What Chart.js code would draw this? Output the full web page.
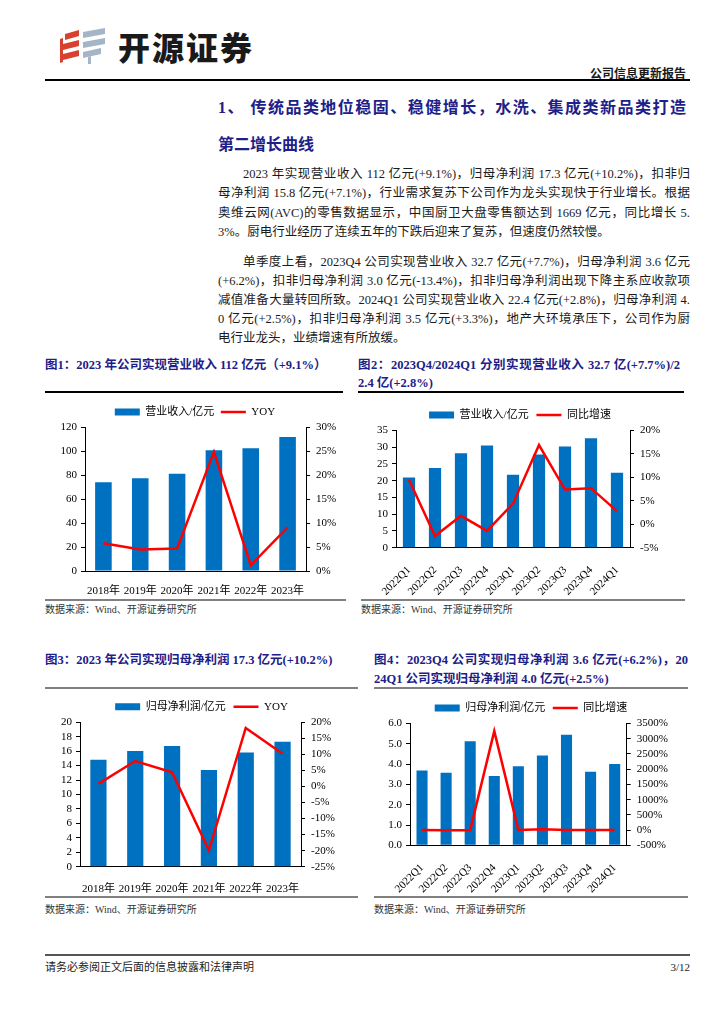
<!DOCTYPE html>
<html lang="zh-CN">
<head>
<meta charset="UTF-8">
<title>开源证券 公司信息更新报告</title>
<script src="https://cdn.jsdelivr.net/npm/chart.js"></script>
<style>
  body { margin: 0; background: #fff; }
  .page {
    position: relative; width: 724px; height: 1024px; overflow: hidden; background: #fff;
    font-family: 'Liberation Serif', 'Noto Sans CJK SC', serif; color: #1a1a1a;
  }
  .abs { position: absolute; white-space: nowrap; }
  .logo-text {
    left: 118px; top: 27px; font-family: 'Noto Sans CJK SC', sans-serif; font-weight: 900;
    font-size: 32px; line-height: 38px; letter-spacing: 2px; color: #1a1a1a;
  }
  .doc-type { left: 536px; width: 150px; top: 66px; text-align: right; font-size: 12px; line-height: 16px; font-weight: bold; }
  .rule { position: absolute; }
  .h1 { left: 218px; width: 468px; font-size: 16px; line-height: 22px; font-weight: bold; color: #1d2088; }
  .just { text-align: justify; text-align-last: justify; white-space: normal; }
  .body-line { left: 218px; width: 472px; font-size: 12.5px; line-height: 19px; }
  .indent { text-indent: 25px; }
  .fig-title { font-size: 12.5px; line-height: 18px; font-weight: bold; color: #1d2088; }
  .src { font-size: 10px; line-height: 14px; color: #333; }
  .foot { font-size: 11px; line-height: 14px; color: #222; }
  .chart-box { position: absolute; }
</style>
</head>
<body>
<div class="page">
  <!-- 页眉 -->
  <svg class="abs" style="left:60px; top:27px" width="48" height="38" viewBox="0 0 48 38">
    <path d="M5,7 L19,3 L19,9 L5,13 Z" fill="#d9412f"/>
    <path d="M3,17 L19,13 L19,19 L3,23 Z" fill="#d9412f"/>
    <path d="M3,27 L19,23 L19,29 L3,33 Z" fill="#d9412f"/>
    <path d="M0,12 L3,11 L3,35 L0,36 Z" fill="#d9412f"/>
    <path d="M23,5 L45,1 L45,7 L23,11 Z" fill="#a3b5c7"/>
    <path d="M23,15 L45,11 L45,17 L23,21 Z" fill="#a3b5c7"/>
    <path d="M23,25 L41,21 L41,27 L23,31 Z" fill="#a3b5c7"/>
    <path d="M28,30 L31,29 L31,37 L28,37 Z" fill="#a3b5c7"/>
  </svg>
  <div class="abs logo-text">开源证券</div>
  <div class="abs doc-type">公司信息更新报告</div>
  <div class="rule" style="left:45px; top:79px; width:645px; height:2px; background:#000"></div>

  <!-- 标题 -->
  <div class="abs h1 just" style="top:97px">1、 传统品类地位稳固、稳健增长，水洗、集成类新品类打造</div>
  <div class="abs h1" style="top:134px">第二增长曲线</div>

  <!-- 正文 -->
  <div class="abs body-line just indent" style="top:164.5px">2023 年实现营业收入 112 亿元(+9.1%)，归母净利润 17.3 亿元(+10.2%)，扣非归</div>
  <div class="abs body-line just" style="top:184px">母净利润 15.8 亿元(+7.1%)，行业需求复苏下公司作为龙头实现快于行业增长。根据</div>
  <div class="abs body-line just" style="top:203.5px">奥维云网(AVC)的零售数据显示，中国厨卫大盘零售额达到 1669 亿元，同比增长 5.</div>
  <div class="abs body-line" style="top:223px">3%。厨电行业经历了连续五年的下跌后迎来了复苏，但速度仍然较慢。</div>

  <div class="abs body-line just indent" style="top:252.5px">单季度上看，2023Q4 公司实现营业收入 32.7 亿元(+7.7%)，归母净利润 3.6 亿元</div>
  <div class="abs body-line just" style="top:271.5px">(+6.2%)，扣非归母净利润 3.0 亿元(-13.4%)，扣非归母净利润出现下降主系应收款项</div>
  <div class="abs body-line just" style="top:290.5px">减值准备大量转回所致。2024Q1 公司实现营业收入 22.4 亿元(+2.8%)，归母净利润 4.</div>
  <div class="abs body-line just" style="top:309.5px">0 亿元(+2.5%)，扣非归母净利润 3.5 亿元(+3.3%)，地产大环境承压下，公司作为厨</div>
  <div class="abs body-line" style="top:328.5px">电行业龙头，业绩增速有所放缓。</div>

  <!-- 图1 / 图2 -->
  <div class="abs fig-title" style="left:45px; top:356px">图1：2023 年公司实现营业收入 112 亿元（+9.1%）</div>
  <div class="rule" style="left:45px; top:391px; width:298px; height:1.5px; background:#000"></div>
  <div class="abs fig-title just" style="left:358px; width:322px; top:356px">图2：2023Q4/2024Q1 分别实现营业收入 32.7 亿(+7.7%)/2</div>
  <div class="abs fig-title" style="left:358px; top:374px">2.4 亿(+2.8%)</div>
  <div class="rule" style="left:358px; top:391px; width:326px; height:1.5px; background:#000"></div>

  <div class="chart-box" style="left:45px; top:395px; width:300px; height:202px"><canvas id="revYear"></canvas></div>
  <div class="chart-box" style="left:360px; top:395px; width:320px; height:202px"><canvas id="revQuarter"></canvas></div>

  <div class="rule" style="left:45px; top:599px; width:301px; height:2px; background:#808080"></div>
  <div class="rule" style="left:361px; top:599px; width:324px; height:2px; background:#808080"></div>
  <div class="abs src" style="left:45px; top:603px">数据来源：Wind、开源证券研究所</div>
  <div class="abs src" style="left:361px; top:603px">数据来源：Wind、开源证券研究所</div>

  <!-- 图3 / 图4 -->
  <div class="abs fig-title" style="left:45px; top:651px">图3：2023 年公司实现归母净利润 17.3 亿元(+10.2%)</div>
  <div class="rule" style="left:45px; top:687px; width:313px; height:1.5px; background:#808080"></div>
  <div class="abs fig-title just" style="left:374px; width:314px; top:651px">图4：2023Q4 公司实现归母净利润 3.6 亿元(+6.2%)，20</div>
  <div class="abs fig-title" style="left:374px; top:670px">24Q1 公司实现归母净利润 4.0 亿元(+2.5%)</div>
  <div class="rule" style="left:374px; top:687px; width:314px; height:1.5px; background:#808080"></div>

  <div class="chart-box" style="left:45px; top:692px; width:313px; height:203px"><canvas id="profitYear"></canvas></div>
  <div class="chart-box" style="left:374px; top:692px; width:314px; height:203px"><canvas id="profitQuarter"></canvas></div>

  <div class="rule" style="left:45px; top:896px; width:313px; height:2px; background:#808080"></div>
  <div class="rule" style="left:374px; top:896px; width:314px; height:2px; background:#808080"></div>
  <div class="abs src" style="left:45px; top:903px">数据来源：Wind、开源证券研究所</div>
  <div class="abs src" style="left:374px; top:903px">数据来源：Wind、开源证券研究所</div>

  <!-- 页脚 -->
  <div class="rule" style="left:45px; top:954px; width:645px; height:2px; background:#555"></div>
  <div class="abs foot" style="left:45px; top:960px">请务必参阅正文后面的信息披露和法律声明</div>
  <div class="abs foot" style="left:640px; width:50px; top:960px; text-align:right">3/12</div>
</div>

<script>
// 数据
const years = ['2018年', '2019年', '2020年', '2021年', '2022年', '2023年'];
const quarters = ['2022Q1', '2022Q2', '2022Q3', '2022Q4', '2023Q1', '2023Q2', '2023Q3', '2023Q4', '2024Q1'];

const revenueYear = [74.3, 77.6, 81.3, 101.0, 102.7, 112.0];      // 营业收入/亿元
const revenueYearYoy = [5.8, 4.5, 4.7, 24.9, 1.2, 9.1];            // YOY %
const revenueQuarter = [21.0, 23.8, 28.2, 30.5, 21.8, 27.8, 30.2, 32.7, 22.4];
const revenueQuarterYoy = [9.5, -2.5, 1.8, -1.4, 4.4, 16.9, 7.4, 7.7, 2.8];

const profitYear = [14.8, 16.0, 16.7, 13.4, 15.8, 17.3];           // 归母净利润/亿元
const profitYearYoy = [0.8, 7.9, 4.4, -19.9, 18.2, 10.2];
const profitQuarter = [3.69, 3.57, 5.12, 3.41, 3.90, 4.42, 5.45, 3.62, 4.00];
const profitQuarterYoy = [1.0, -6.5, -2.0, 3250, 5.7, 23.8, 6.4, 6.2, 2.5];

const SERIF = "'Liberation Serif', 'Noto Sans CJK SC', serif";
Chart.defaults.font.family = SERIF;
Chart.defaults.font.size = 11;
Chart.defaults.color = '#000';
Chart.defaults.animation = false;

const BAR_BLUE = '#0070C0';
const LINE_RED = '#FF0000';
const pct = v => v + '%';

function yAxis(position, min, max, step, width, fmt) {
    return {
        position: position,
        min: min,
        max: max,
        ticks: { stepSize: step, autoSkip: false, padding: position === 'left' ? 4 : 6, callback: fmt },
        grid: { drawOnChartArea: false, drawTicks: true, tickLength: 4, color: '#000' },
        border: { display: true, color: '#000', width: 1 },
        afterFit: s => { s.width = width; }
    };
}

function comboChart(id, c) {
    return new Chart(document.getElementById(id), {
        data: {
            labels: c.labels,
            datasets: [{
                type: 'bar',
                label: c.barLabel,
                data: c.bars,
                backgroundColor: BAR_BLUE,
                yAxisID: 'y',
                order: 1,
                barPercentage: c.barPct,
                categoryPercentage: 1
            }, {
                type: 'line',
                label: c.lineLabel,
                data: c.line,
                borderColor: LINE_RED,
                backgroundColor: LINE_RED,
                borderWidth: 2.5,
                pointRadius: 0,
                tension: 0,
                yAxisID: 'y1',
                order: 0
            }]
        },
        options: {
            responsive: true,
            maintainAspectRatio: false,
            layout: { padding: { top: c.padTop, left: 0, right: 0, bottom: 0 } },
            plugins: {
                tooltip: { enabled: false },
                legend: {
                    position: 'top',
                    labels: {
                        usePointStyle: true,
                        pointStyleWidth: 25,
                        boxHeight: 7,
                        padding: c.legendPad,
                        color: '#000',
                        generateLabels: chart => chart.data.datasets.map((ds, i) => ({
                            text: ds.label,
                            datasetIndex: i,
                            pointStyle: ds.type === 'line' ? 'line' : 'rect',
                            fillStyle: ds.type === 'line' ? LINE_RED : BAR_BLUE,
                            strokeStyle: ds.type === 'line' ? LINE_RED : BAR_BLUE,
                            lineWidth: ds.type === 'line' ? 2.5 : 0,
                            fontColor: '#000',
                            hidden: false
                        }))
                    }
                }
            },
            scales: {
                x: {
                    grid: { display: false },
                    border: { display: true, color: '#000', width: 1 },
                    ticks: { padding: c.xPad, minRotation: c.rot, maxRotation: c.rot, autoSkip: false },
                    afterFit: s => { s.height = c.xHeight; }
                },
                y: yAxis('left', c.y[0], c.y[1], c.y[2], c.yWidth, c.yFmt),
                y1: yAxis('right', c.y1[0], c.y1[1], c.y1[2], c.y1Width, pct)
            }
        }
    });
}

// 图1：年度营业收入
comboChart('revYear', {
    labels: years, bars: revenueYear, line: revenueYearYoy,
    barLabel: '营业收入/亿元', lineLabel: 'YOY',
    barPct: 0.45, padTop: 5, legendPad: 6.5, xPad: 6, rot: 0, xHeight: 26,
    y: [0, 120, 20], yWidth: 40, y1: [0, 30, 5], y1Width: 39
});

// 图2：季度营业收入
comboChart('revQuarter', {
    labels: quarters, bars: revenueQuarter, line: revenueQuarterYoy,
    barLabel: '营业收入/亿元', lineLabel: '同比增速',
    barPct: 0.47, padTop: 6.7, legendPad: 7.8, xPad: 8, rot: 45, xHeight: 49.3,
    y: [0, 35, 5], yWidth: 36, y1: [-5, 20, 5], y1Width: 50
});

// 图3：年度归母净利润
comboChart('profitYear', {
    labels: years, bars: profitYear, line: profitYearYoy,
    barLabel: '归母净利润/亿元', lineLabel: 'YOY',
    barPct: 0.44, padTop: 1.4, legendPad: 7.8, xPad: 8, rot: 0, xHeight: 28.3,
    y: [0, 20, 2], yWidth: 35, y1: [-25, 20, 5], y1Width: 57
});

// 图4：季度归母净利润
comboChart('profitQuarter', {
    labels: quarters, bars: profitQuarter, line: profitQuarterYoy,
    barLabel: '归母净利润/亿元', lineLabel: '同比增速',
    barPct: 0.46, padTop: 3, legendPad: 7.5, xPad: 8, rot: 45, xHeight: 49.7,
    y: [0, 6, 1], yWidth: 36, yFmt: v => v.toFixed(1), y1: [-500, 3500, 500], y1Width: 61.3
});
</script>
</body>
</html>
